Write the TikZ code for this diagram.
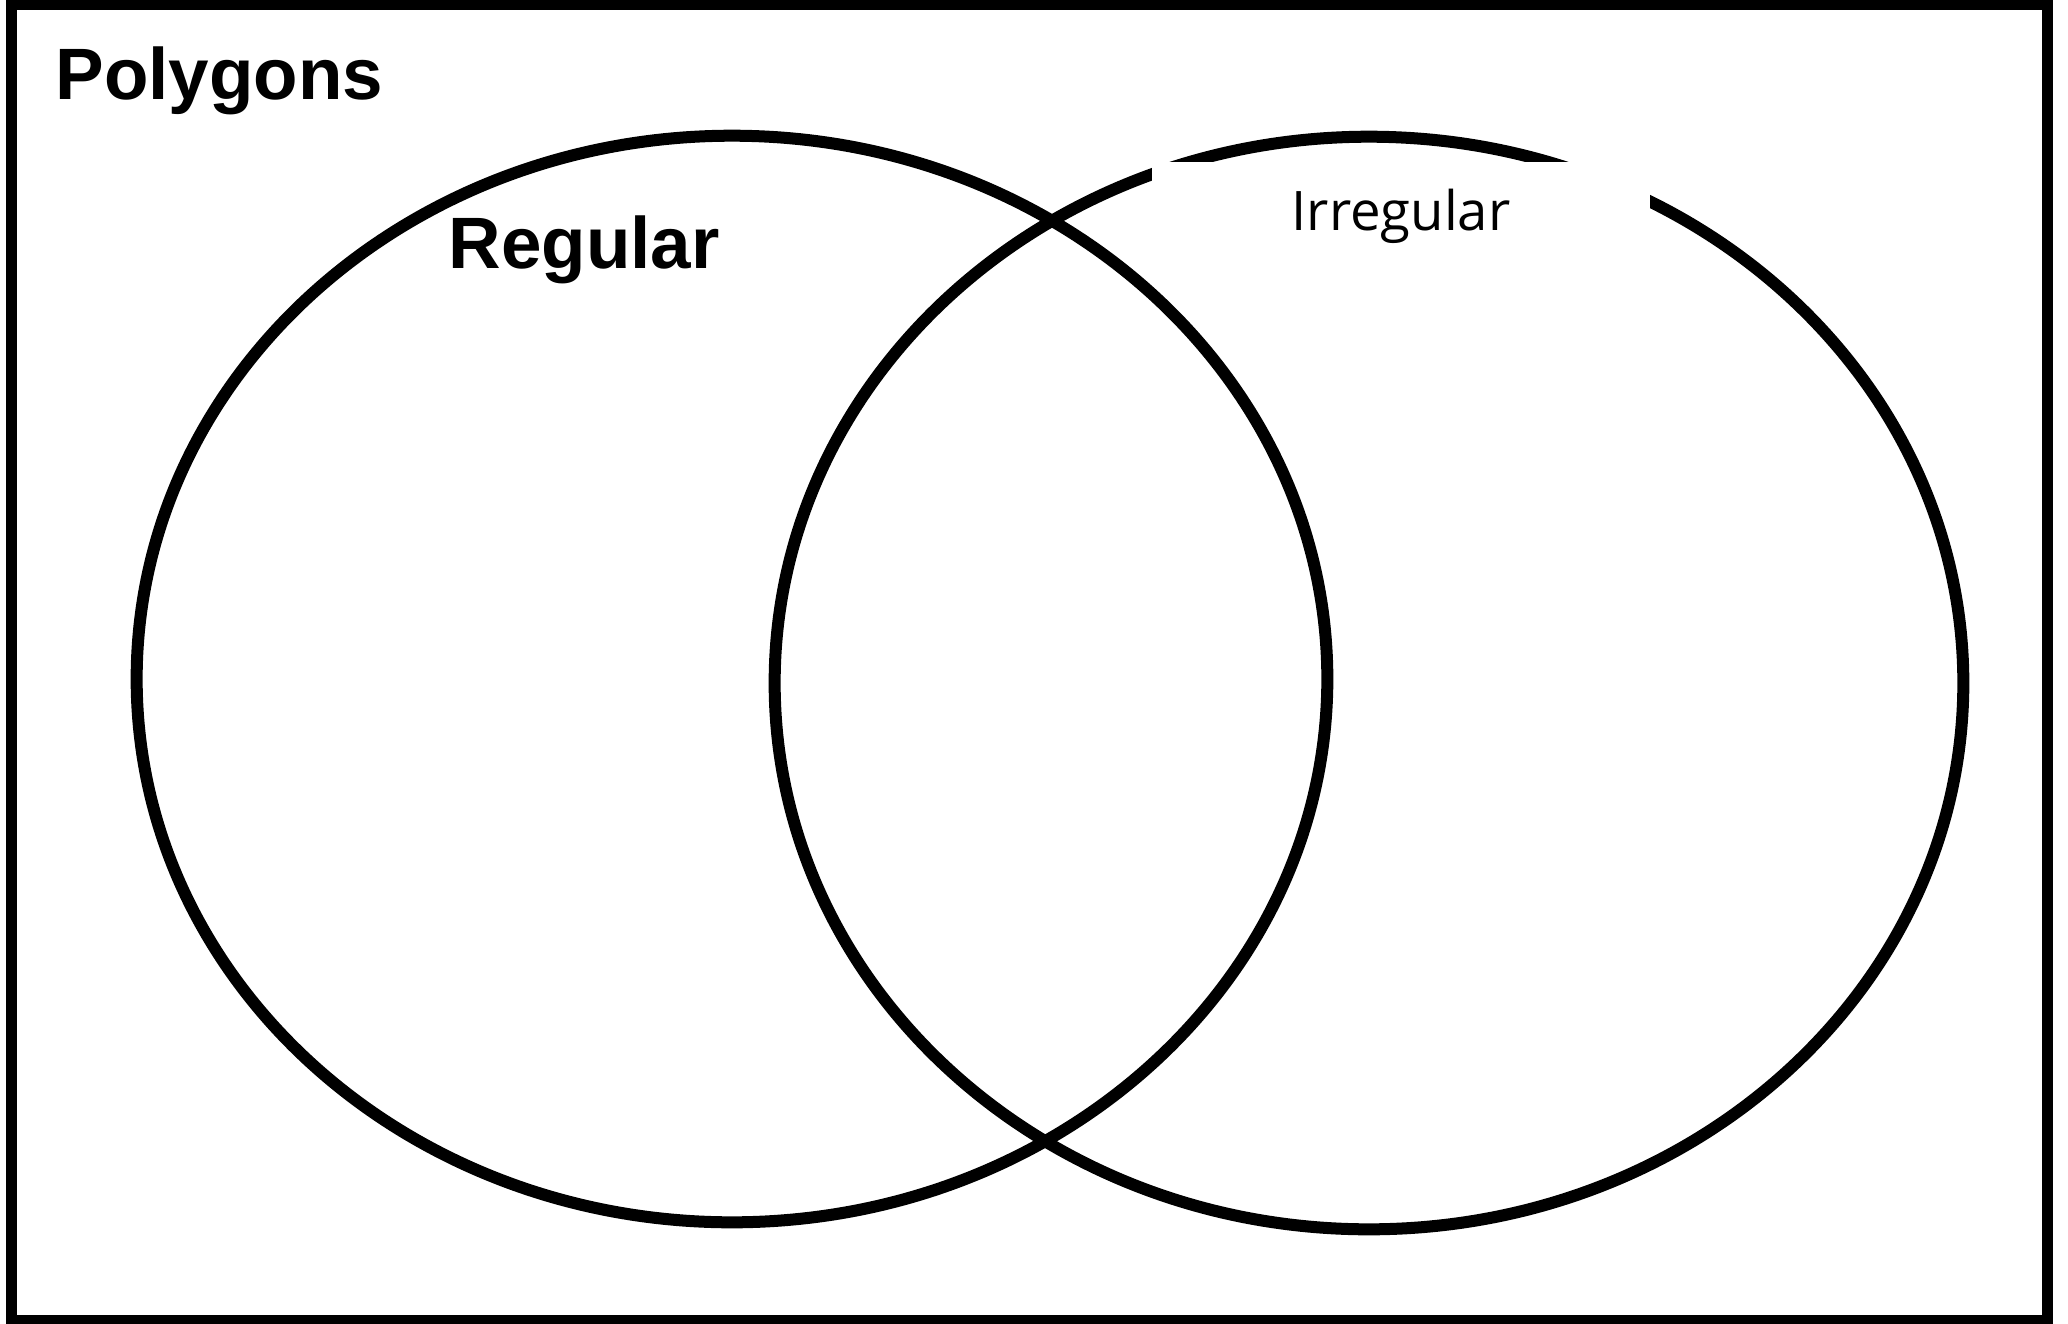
\documentclass[tikz,border=0pt]{standalone}
\usepackage{fontspec}
\setmainfont{Liberation Sans}
\newfontfamily\handfont{Open Sans}

\begin{document}
\begin{tikzpicture}[
  x=0.01cm,
  y=-0.01cm,
  venn/.style={line width=0.12cm},
  title/.style={font=\fontsize{20.7}{24}\selectfont\bfseries, inner sep=0pt, anchor=base west}
]

% Page size
\useasboundingbox (0,0) rectangle (2068,1323);
\fill[white] (0,0) rectangle (2068,1323);

% Outer frame
\draw[line width=0.11cm] (11.5,4.5) rectangle (2047.5,1320.5);

% Two sets
\draw[venn] (732,679) ellipse [x radius=5.95cm, y radius=5.43cm];
\draw[venn] (1369,683) ellipse [x radius=5.94cm, y radius=5.46cm];

% Labels
\node[title] (poly) at (55,99) {Polygons};
\node[title] (reg) at (448,268) {Regular};

\node[fill=white, inner sep=0pt, minimum width=4.98cm, minimum height=0.88cm,
  text height=0.48cm, text depth=0pt, font=\handfont\fontsize{15.5}{18}\selectfont]
  (irr) at (1401,206) {Irregular};

\end{tikzpicture}
\end{document}
